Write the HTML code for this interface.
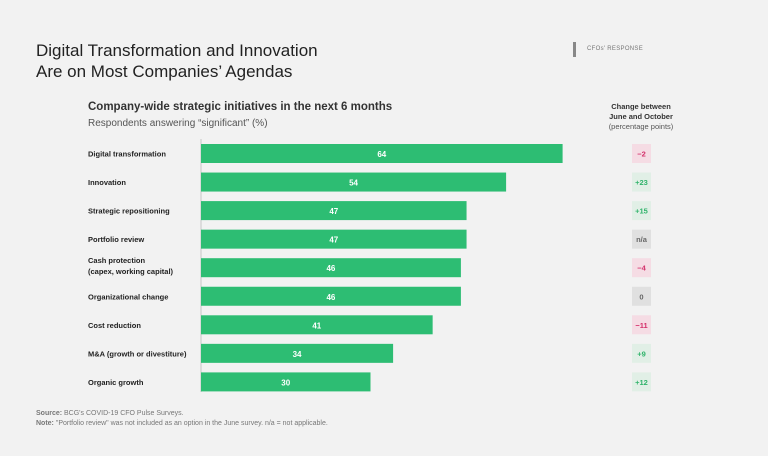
<!DOCTYPE html>
<html><head><meta charset="utf-8"><style>
body{margin:0;background:#f2f2f2;font-family:"Liberation Sans",sans-serif;}
#c{position:relative;width:768px;height:456px;overflow:hidden;background:#f2f2f2}
.t{position:absolute;white-space:nowrap}
</style></head><body>
<div id="c">
<div class="t" style="left:36px;top:40px;font-size:17px;line-height:21px;color:#222">Digital Transformation and Innovation<br>Are on Most Companies’ Agendas</div>
<div style="position:absolute;left:573px;top:42px;width:3px;height:15px;background:#888"></div>
<div class="t" style="left:587px;top:46px;font-size:6px;color:#777;letter-spacing:.3px">CFOs' RESPONSE</div>
<div class="t" style="left:88px;top:101px;font-size:11.5px;font-weight:bold;color:#333">Company-wide strategic initiatives in the next 6 months</div>
<div class="t" style="left:88px;top:118px;font-size:10px;color:#555">Respondents answering “significant” (%)</div>
<div class="t" style="left:600px;top:102px;width:82px;text-align:center;font-size:7.5px;line-height:10px;color:#333"><b>Change between<br>June and October</b><br><span style="color:#555">(percentage points)</span></div>
<svg id="s" width="768" height="456" style="position:absolute;left:0;top:0"></svg>
<div class="t" style="left:36px;top:409px;font-size:7px;line-height:10px;color:#777"><b>Source:</b> BCG's COVID-19 CFO Pulse Surveys.<br><b>Note:</b> "Portfolio review" was not included as an option in the June survey. n/a = not applicable.</div>
</div>
<script>
const categories=["Digital transformation","Innovation","Strategic repositioning","Portfolio review","Cash protection|(capex, working capital)","Organizational change","Cost reduction","M&A (growth or divestiture)","Organic growth"];
const values=[64,54,47,47,46,46,41,34,30];
const changes=["−2","+23","+15","n/a","−4","0","−11","+9","+12"];
const s=document.getElementById('s'),NS="http://www.w3.org/2000/svg";
const x0=201,k=5.65,y0=144,pitch=28.55,bh=19;
const xs=v=>x0+v*k, ys=i=>y0+i*pitch;
function mk(t,a){const e=document.createElementNS(NS,t);for(const q in a)e.setAttribute(q,a[q]);s.appendChild(e);return e;}
const ax=mk('line',{x1:x0,x2:x0,y1:139,y2:392,stroke:'#bbb','stroke-width':0.8});


values.forEach((v,i)=>{
 const y=ys(i);
 const r=mk('rect',{x:x0,y:y,width:xs(v)-x0,height:bh,fill:'#2dbd73'});
 
 
 const vt=mk('text',{x:(x0+xs(v))/2,y:y+13,'text-anchor':'middle','font-size':8,'font-weight':'bold',fill:'#fff','font-family':'Liberation Sans'});
 vt.textContent=v;
 
 
 const parts=categories[i].split('|');
 parts.forEach((p,j)=>{
  const lt=mk('text',{x:88,y:y+(parts.length>1?5+j*11:12.5),'font-size':7.5,'font-weight':'bold',fill:'#222','font-family':'Liberation Sans'});
  lt.textContent=p;
  
  
 });
 const c=changes[i];
 let bg='#e0e0e0',fg='#666';
 if(c[0]=='+'){bg='#e1efe6';fg='#2fb36a';}else if(c[0]=='−'){bg='#f5dce4';fg='#d42f6a';}
 const b=mk('rect',{x:632,y:y,width:19,height:bh,fill:bg});
 
 
 const ct=mk('text',{x:641.5,y:y+12.5,'text-anchor':'middle','font-size':7.5,'font-weight':'bold',fill:fg,'font-family':'Liberation Sans'});
 ct.textContent=c;
 
 
});
</script>
</body></html>
